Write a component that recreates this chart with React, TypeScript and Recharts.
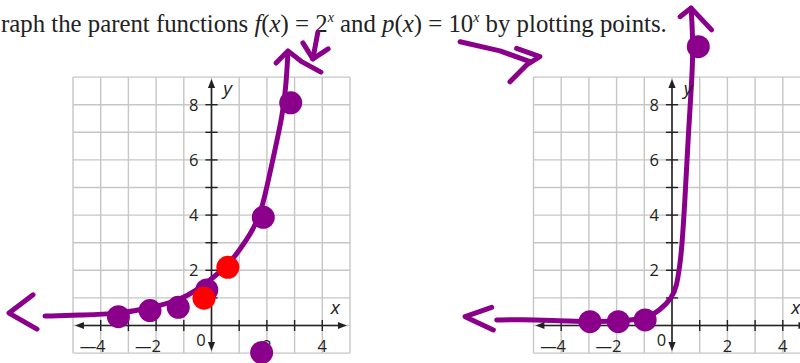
import React from "react";
import { ComposedChart, XAxis, YAxis, Line, Scatter, ReferenceLine } from "recharts";

// graph paper: one square per unit
const gridXs = [-5, -4, -3, -2, -1, 0, 1, 2, 3, 4, 5];
const gridYs = [-1, 0, 1, 2, 3, 4, 5, 6, 7, 8, 9];
const xTickValues = [-4, -3, -2, -1, 1, 2, 3, 4];
const yTickValues = [1, 2, 3, 4, 5, 6, 7, 8];
const xLabelValues = [-4, -2, 2, 4];
const yLabelValues = [2, 4, 6, 8];

// f(x) = 2^x, hand drawn
const fCurve = [
  { x: -6.01, y: 0.34 }, { x: -4.64, y: 0.38 }, { x: -3.38, y: 0.42 },
  { x: -2.22, y: 0.63 }, { x: -1.14, y: 0.92 }, { x: -0.52, y: 1.29 },
  { x: 0.05, y: 1.72 }, { x: 0.67, y: 2.26 }, { x: 1.28, y: 3.1 },
  { x: 1.75, y: 3.93 }, { x: 2.0, y: 5.02 }, { x: 2.29, y: 6.36 },
  { x: 2.55, y: 7.56 }, { x: 2.69, y: 8.64 }, { x: 2.76, y: 9.91 },
];
const fStrokes = [
  // arrow head on top of the curve
  [{ x: 2.33, y: 9.51 }, { x: 2.76, y: 9.95 }, { x: 3.27, y: 9.55 }, { x: 3.95, y: 9.18 }],
  // small arrow pointing down from 2^x
  [{ x: 3.84, y: 10.63 }, { x: 3.66, y: 9.66 }],
  [{ x: 3.3, y: 10.24 }, { x: 3.66, y: 9.66 }, { x: 4.21, y: 10.02 }],
  // left arrow head
  [{ x: -6.44, y: 1.11 }, { x: -7.31, y: 0.45 }, { x: -6.3, y: -0.13 }],
];
const fDots = [
  { x: -3.36, y: 0.32 }, { x: -2.22, y: 0.54 }, { x: -1.2, y: 0.66 },
  { x: -0.17, y: 1.29 }, { x: 1.87, y: 3.92 }, { x: 2.86, y: 8.07 },
  { x: 1.81, y: -0.98 },
];
const fRedDots = [{ x: -0.27, y: 0.99 }, { x: 0.59, y: 2.11 }];

// p(x) = 10^x, hand drawn
const pCurve = [
  { x: -6.33, y: 0.2 }, { x: -5.49, y: 0.22 }, { x: -4.04, y: 0.17 },
  { x: -2.96, y: 0.14 }, { x: -2.0, y: 0.14 }, { x: -0.91, y: 0.26 },
  { x: -0.43, y: 0.56 }, { x: -0.01, y: 0.99 }, { x: 0.17, y: 1.41 },
  { x: 0.29, y: 2.25 }, { x: 0.35, y: 2.74 }, { x: 0.47, y: 4.55 },
  { x: 0.59, y: 6.96 }, { x: 0.71, y: 8.78 }, { x: 0.77, y: 10.1 },
  { x: 0.69, y: 11.5 },
];
const pStrokes = [
  [{ x: 0.29, y: 11.19 }, { x: 0.69, y: 11.5 }, { x: 1.43, y: 10.71 }],
  [{ x: -6.51, y: 0.66 }, { x: -7.47, y: 0.32 }, { x: -6.45, y: -0.16 }],
  // arrow from the title over to this graph
  [{ x: -7.65, y: 10.28 }, { x: -6.21, y: 9.95 }, { x: -5.13, y: 9.56 }],
  [{ x: -5.61, y: 10.04 }, { x: -4.77, y: 9.74 }, { x: -5.25, y: 9.44 }, { x: -5.85, y: 8.83 }],
];
const pDots = [
  { x: -2.96, y: 0.14 }, { x: -1.94, y: 0.14 }, { x: -0.97, y: 0.2 },
  { x: 0.95, y: 10.1 },
];

const PURPLE = "#8b008b";
const RED = "#ff0000";
const GRID = "#c6c6c6";
const INK = "#222";
const UX = 27.7;
const UY = 27.6;
const ORIGIN_Y = 325.5;
const H = 363;
const TICK_FONT = "'Open Sans', 'DejaVu Sans', sans-serif";

const XLabel = (p: any) => {
  const { cx, cy, payload } = p;
  const v = payload.v;
  return (
    <g fill={INK} fontFamily={TICK_FONT} fontSize={16.5}>
      <text x={cx} y={cy} textAnchor="middle">{Math.abs(v)}</text>
      {v < 0 && <text x={cx - 4.5} y={cy} textAnchor="end">—</text>}
    </g>
  );
};

const YLabel = (p: any) => (
  <text x={p.cx} y={p.cy + 6} textAnchor="end" fill={INK} fontFamily={TICK_FONT} fontSize={16.5}>
    {p.payload.v}
  </text>
);

const ZeroLabel = (p: any) => (
  <text x={p.cx} y={p.cy} textAnchor="middle" fill={INK} fontFamily={TICK_FONT} fontSize={16.5}>0</text>
);

const AxisName = (p: any) => (
  <text x={p.cx} y={p.cy + 5} textAnchor="middle" fill={INK} fontFamily={TICK_FONT}
    fontStyle="italic" fontSize={19}>{p.payload.name}</text>
);

const Arrow = (p: any) => {
  const { cx, cy, payload } = p;
  const len = 9;
  const w = 3.6;
  let d = "";
  if (payload.dir === "left") d = `M${cx},${cy}L${cx + len},${cy - w}L${cx + len},${cy + w}Z`;
  if (payload.dir === "right") d = `M${cx},${cy}L${cx - len},${cy - w}L${cx - len},${cy + w}Z`;
  if (payload.dir === "up") d = `M${cx},${cy}L${cx - w},${cy + len}L${cx + w},${cy + len}Z`;
  if (payload.dir === "down") d = `M${cx},${cy}L${cx - w},${cy - len}L${cx + w},${cy - len}Z`;
  return <path d={d} fill={INK} />;
};

const dotShape = (color: string) => (p: any) => (
  <circle cx={p.cx} cy={p.cy} r={11.5} fill={color} />
);

interface PanelProps {
  width: number;
  originX: number;
  xAxisEnd: number;
  curve: { x: number; y: number }[];
  strokes: { x: number; y: number }[][];
  dots: { x: number; y: number }[];
  redDots: { x: number; y: number }[];
}

function Panel({ width, originX, xAxisEnd, curve, strokes, dots, redDots }: PanelProps) {
  const xDomain = [-originX / UX, (width - originX) / UX];
  const yDomain = [(ORIGIN_Y - H) / UY, ORIGIN_Y / UY];
  const axisStart = { x: -4.93, y: -0.92 };
  const axisTop = 8.93;

  const arrows = [
    { x: axisStart.x, y: 0, dir: "left" },
    { x: xAxisEnd, y: 0, dir: "right" },
    { x: 0, y: axisTop, dir: "up" },
    { x: 0, y: axisStart.y, dir: "down" },
  ];
  const xLabels = xLabelValues.map((v) => ({ x: v, y: -0.96, v }));
  const yLabels = yLabelValues.map((v) => ({ x: -0.47, y: v, v }));
  const names = [
    { x: 4.47, y: 0.58, name: "x" },
    { x: 0.58, y: 8.55, name: "y" },
  ];

  return (
    <ComposedChart width={width} height={H} margin={{ top: 0, right: 0, bottom: 0, left: 0 }}>
      <XAxis type="number" dataKey="x" domain={xDomain} hide allowDataOverflow />
      <YAxis type="number" dataKey="y" domain={yDomain} hide allowDataOverflow />

      {gridXs.map((x) => (
        <ReferenceLine key={`gx${x}`} ifOverflow="visible" stroke={GRID} strokeWidth={1.4}
          segment={[{ x, y: -1 }, { x, y: 9 }]} />
      ))}
      {gridYs.map((y) => (
        <ReferenceLine key={`gy${y}`} ifOverflow="visible" stroke={GRID} strokeWidth={1.4}
          segment={[{ x: -5, y }, { x: 5, y }]} />
      ))}

      <ReferenceLine ifOverflow="visible" stroke={INK} strokeWidth={1.6}
        segment={[{ x: axisStart.x + 0.2, y: 0 }, { x: xAxisEnd - 0.2, y: 0 }]} />
      <ReferenceLine ifOverflow="visible" stroke={INK} strokeWidth={1.6}
        segment={[{ x: 0, y: axisStart.y + 0.2 }, { x: 0, y: axisTop - 0.2 }]} />
      {xTickValues.map((x) => (
        <ReferenceLine key={`tx${x}`} ifOverflow="visible" stroke={INK} strokeWidth={1.4}
          segment={[{ x, y: -0.2 }, { x, y: 0.2 }]} />
      ))}
      {yTickValues.map((y) => (
        <ReferenceLine key={`ty${y}`} ifOverflow="visible" stroke={INK} strokeWidth={1.4}
          segment={[{ x: -0.22, y }, { x: 0.22, y }]} />
      ))}

      <Scatter data={arrows} shape={Arrow} isAnimationActive={false} />
      <Scatter data={xLabels} shape={XLabel} isAnimationActive={false} />
      <Scatter data={yLabels} shape={YLabel} isAnimationActive={false} />
      <Scatter data={[{ x: -0.38, y: -0.74 }]} shape={ZeroLabel} isAnimationActive={false} />
      <Scatter data={names} shape={AxisName} isAnimationActive={false} />

      <Line data={curve} dataKey="y" type="basis" stroke={PURPLE} strokeWidth={5}
        strokeLinecap="round" strokeLinejoin="round" dot={false} activeDot={false}
        isAnimationActive={false} />
      {strokes.map((s, i) => (
        <Line key={`s${i}`} data={s} dataKey="y" type="linear" stroke={PURPLE} strokeWidth={5}
          strokeLinecap="round" strokeLinejoin="round" dot={false} activeDot={false}
          isAnimationActive={false} />
      ))}
      <Scatter data={dots} shape={dotShape(PURPLE)} isAnimationActive={false} />
      {redDots.length > 0 && (
        <Scatter data={redDots} shape={dotShape(RED)} isAnimationActive={false} />
      )}
    </ComposedChart>
  );
}

export default function App() {
  const it = { fontStyle: "italic" } as const;
  return (
    <div style={{ position: "absolute", left: 0, top: 0, width: 800, height: H, background: "#fff", overflow: "hidden" }}>
      <svg width={800} height={50} style={{ position: "absolute", left: 0, top: 0 }}>
        <text x={1} y={32} fontFamily="'Liberation Serif', serif" fontSize={24.8} fill="#222">
          {"raph the parent functions "}
          <tspan {...it}>f</tspan>(<tspan {...it}>x</tspan>){" = 2"}
          <tspan {...it} fontSize={14} dy={-10}>x</tspan>
          <tspan dy={10}>{" and "}</tspan>
          <tspan {...it}>p</tspan>(<tspan {...it}>x</tspan>){" = 10"}
          <tspan {...it} fontSize={14} dy={-10}>x</tspan>
          <tspan dy={10}>{" by plotting points."}</tspan>
        </text>
      </svg>
      <div style={{ position: "absolute", left: 0, top: 0 }}>
        <Panel width={420} originX={211.5} xAxisEnd={4.89} curve={fCurve}
          strokes={fStrokes} dots={fDots} redDots={fRedDots} />
      </div>
      <div style={{ position: "absolute", left: 420, top: 0 }}>
        <Panel width={380} originX={252} xAxisEnd={4.89} curve={pCurve}
          strokes={pStrokes} dots={pDots} redDots={[]} />
      </div>
    </div>
  );
}
